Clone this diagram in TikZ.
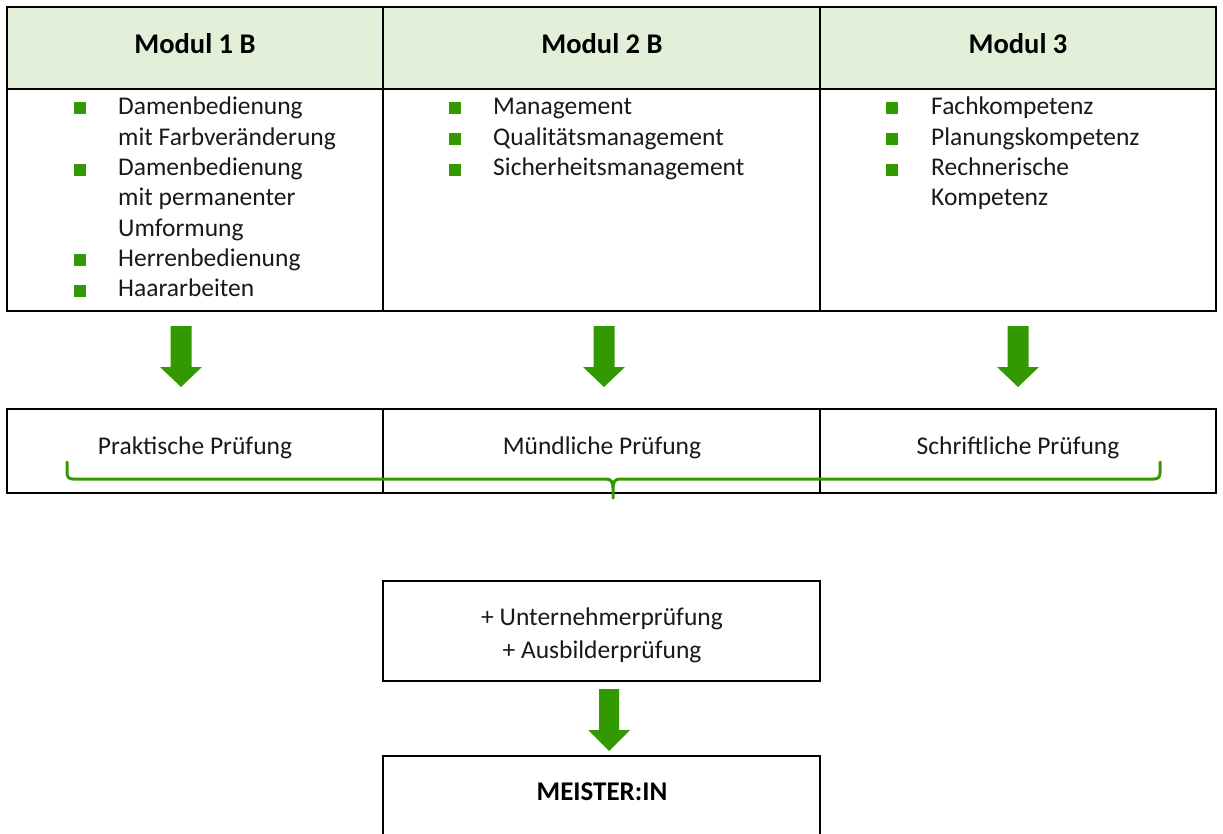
\documentclass[tikz,border=0pt]{standalone}
\usepackage{fontspec}
\setmainfont{Carlito}
\definecolor{grn}{RGB}{51,153,0}
\definecolor{hdr}{RGB}{226,239,217}
\definecolor{txt}{RGB}{25,25,25}
\begin{document}
\begin{tikzpicture}[x=1pt,y=-1pt,
  cell/.style={draw=black,line width=2pt,rectangle,inner sep=0pt},
  head/.style={cell,fill=hdr},
  item/.style={anchor=base west,inner sep=0pt,text=txt,font=\fontsize{25.5}{30}\selectfont},
  ctext/.style={anchor=base,inner sep=0pt,text=txt,font=\fontsize{25.5}{30}\selectfont},
  btext/.style={anchor=base,inner sep=0pt,text=black,font=\fontsize{28.5}{30}\selectfont\bfseries},
  bul/.style={fill=grn,draw=none,minimum size=12pt,inner sep=0pt,rectangle},
  bigarrow/.style={fill=grn,draw=none},
  brace/.style={draw=grn,line width=3pt,line cap=round,line join=round}]
\useasboundingbox (0,0) rectangle (1223,834);
% top table
\node[head,minimum width=376,minimum height=82] (h1) at (195,48) {};
\node[head,minimum width=437,minimum height=82] (h2) at (601.5,48) {};
\node[head,minimum width=396,minimum height=82] (h3) at (1018,48) {};
\node[btext] (t1) at (195,54) {Modul 1 B};
\node[btext] (t2) at (602,54) {Modul 2 B};
\node[btext] (t3) at (1018,54) {Modul 3};
\node[cell,minimum width=376,minimum height=222] (b1) at (195,200) {};
\node[cell,minimum width=437,minimum height=222] (b2) at (601.5,200) {};
\node[cell,minimum width=396,minimum height=222] (b3) at (1018,200) {};
% column 1
\node[bul] (q11) at (79.5,108.5) {};
\node[item] (i11) at (118,115) {Damenbedienung};
\node[item] (i12) at (118,145.3) {mit Farbveränderung};
\node[bul] (q12) at (79.5,169.6) {};
\node[item] (i13) at (118,175.6) {Damenbedienung};
\node[item] (i14) at (118,205.9) {mit permanenter};
\node[item] (i15) at (118,236.2) {Umformung};
\node[bul] (q13) at (79.5,260.5) {};
\node[item] (i16) at (118,266.5) {Herrenbedienung};
\node[bul] (q14) at (79.5,290.8) {};
\node[item] (i17) at (118,296.8) {Haararbeiten};
% column 2
\node[bul] (q21) at (455,108.5) {};
\node[item] (i21) at (493,115) {Management};
\node[bul] (q22) at (455,139.3) {};
\node[item] (i22) at (493,145.3) {Qualitätsmanagement};
\node[bul] (q23) at (455,169.6) {};
\node[item] (i23) at (493,175.6) {Sicherheitsmanagement};
% column 3
\node[bul] (q31) at (891.5,108.5) {};
\node[item] (i31) at (931,115) {Fachkompetenz};
\node[bul] (q32) at (891.5,139.3) {};
\node[item] (i32) at (931,145.3) {Planungskompetenz};
\node[bul] (q33) at (891.5,169.6) {};
\node[item] (i33) at (931,175.6) {Rechnerische};
\node[item] (i34) at (931,205.9) {Kompetenz};
% second table
\node[cell,minimum width=376,minimum height=84] (p1) at (195,451) {};
\node[cell,minimum width=437,minimum height=84] (p2) at (601.5,451) {};
\node[cell,minimum width=396,minimum height=84] (p3) at (1018,451) {};
\node[ctext] (pt1) at (195,454) {Praktische Prüfung};
\node[ctext] (pt2) at (602,454) {Mündliche Prüfung};
\node[ctext] (pt3) at (1018,454) {Schriftliche Prüfung};
% arrows
\foreach \cx/\nm in {181/a1,604/a2,1018/a3}{
  \fill[bigarrow] (\cx-10.5,326) -- (\cx+10.5,326) -- (\cx+10.5,367) -- (\cx+21,367)
    -- (\cx,387) -- (\cx-21,367) -- (\cx-10.5,367) -- cycle;
}
% brace
\coordinate (bl) at (67,462);
\coordinate (br) at (1160,462);
\coordinate (bm) at (613,498);
\draw[brace] (bl) -- (67,473) .. controls (67,477) and (69,479) .. (73,479) -- (606,479)
  .. controls (611,479) and (613,482) .. (613,488) -- (bm);
\draw[brace] (br) -- (1160,473) .. controls (1160,477) and (1158,479) .. (1154,479) -- (620,479)
  .. controls (615,479) and (613,482) .. (613,488);
% lower boxes
\node[cell,minimum width=437,minimum height=100] (u) at (601.5,631) {};
\node[ctext] (ut1) at (602,625) {+ Unternehmerprüfung};
\node[ctext] (ut2) at (602,658) {+ Ausbilderprüfung};
\fill[bigarrow] (599,689) -- (619,689) -- (619,730) -- (630,730) -- (609,751) -- (588,730) -- (599,730) -- cycle;
\node[cell,minimum width=437,minimum height=100] (m) at (601.5,806) {};
\node[btext,font=\fontsize{27}{30}\selectfont\bfseries] (mt) at (602,800) {MEISTER:IN};
\end{tikzpicture}
\end{document}
